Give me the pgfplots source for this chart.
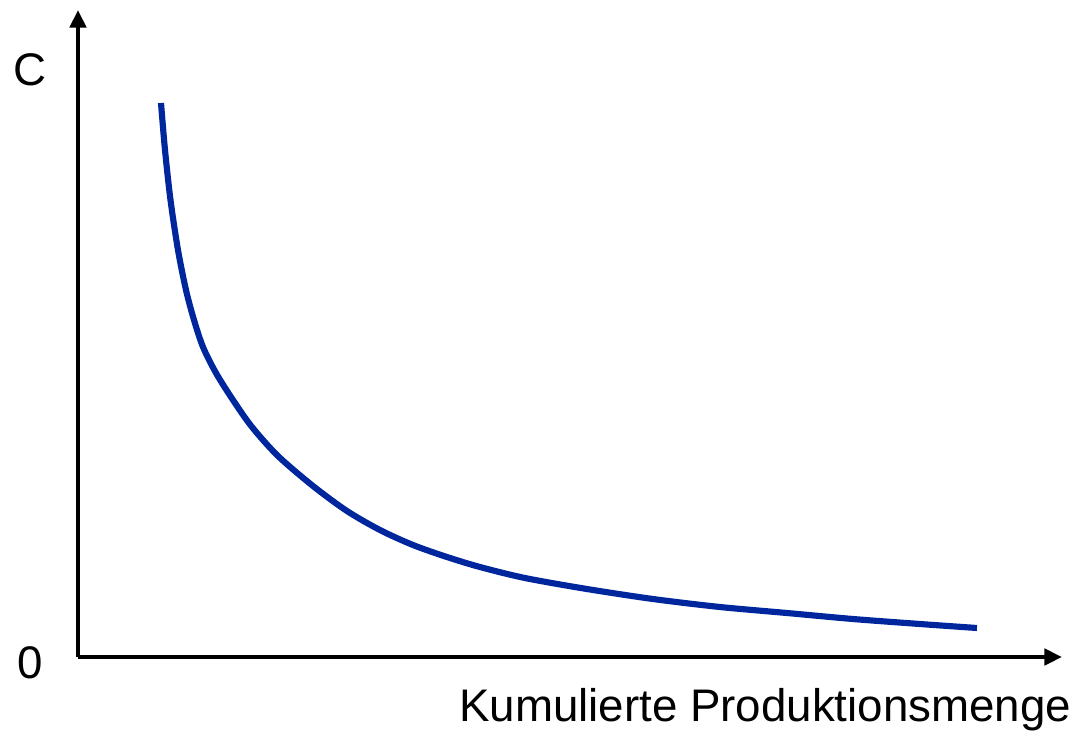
\documentclass[border=0pt]{standalone}
\usepackage{pgfplots}
\pgfplotsset{compat=1.18}
\usepackage{fontspec}
\setmainfont{Liberation Sans}
\usetikzlibrary{arrows.meta}
\definecolor{curveblue}{RGB}{0,38,158}
\begin{document}
\begin{tikzpicture}
\begin{axis}[
  scale only axis,
  width=98.4mm, height=64.7mm,
  xmin=0, xmax=984, ymin=0, ymax=647,
  axis lines=left,
  axis line style={line width=1.15pt, -{Triangle[length=5pt,width=4.6pt]}},
  xtick=\empty, ytick=\empty,
  clip=false,
]
\addplot[curveblue, line width=1.75pt, smooth, tension=0.5] coordinates {
(83,554) (87,507) (92.5,457) (100,407) (108,367) (116,337) (125,310) (138,284)
(155,257) (174,230) (200,201) (235,171) (269,146) (302,127) (335,112)
(369,100) (402,90) (447,79) (509,68) (575,58) (642,50) (709,44)
(775,38) (842,33) (899,29)
};
\path (axis cs:-78,-77) rectangle (axis cs:1000,657);
\node[font=\fontsize{13}{15}\selectfont] at (axis cs:-48,587) {C};
\node[font=\fontsize{13}{15}\selectfont] at (axis cs:-48,-6) {0};
\node[font=\fontsize{13}{15}\selectfont, anchor=east, inner sep=0pt] at (axis cs:994,-53) {Kumulierte Produktionsmenge};
\end{axis}
\end{tikzpicture}
\end{document}
